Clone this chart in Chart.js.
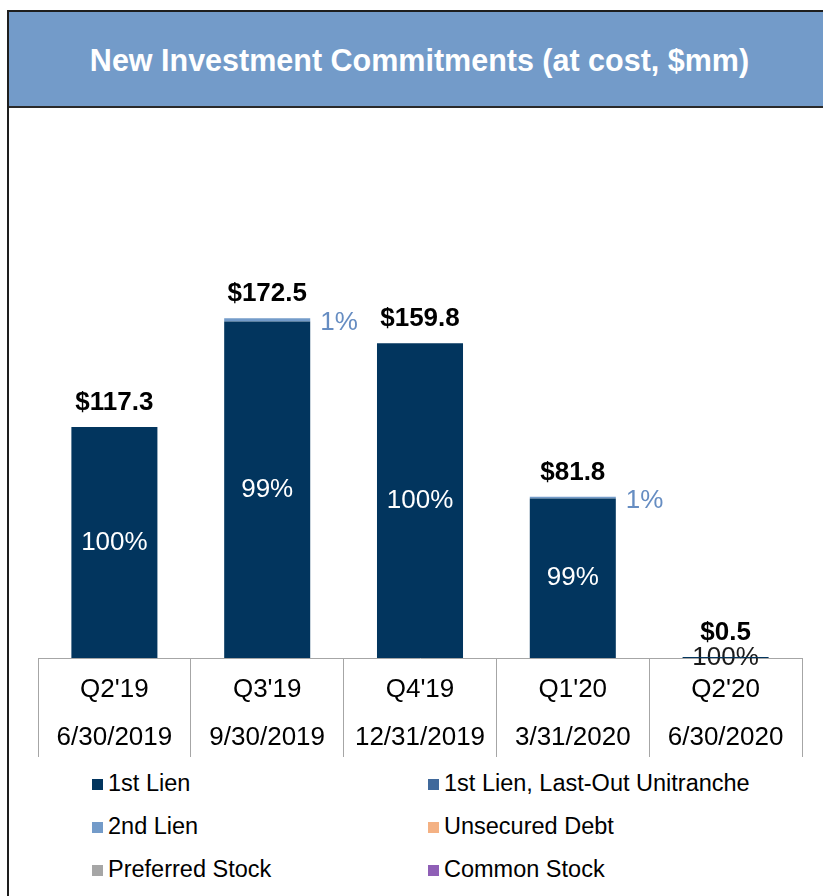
<!DOCTYPE html>
<html>
<head>
<meta charset="utf-8">
<script src="https://cdn.jsdelivr.net/npm/chart.js@4/dist/chart.umd.min.js"></script>
<style>
    body { margin: 0; background: #fff; font-family: "Liberation Sans", Arial, sans-serif; }
    #page { position: relative; width: 823px; height: 896px; overflow: hidden; }
    #frame { position: absolute; left: 7px; top: 10px; width: 840px; height: 900px; border-left: 2px solid #1e1e1e; border-top: 2px solid #1e1e1e; }
    #header { position: absolute; left: 9px; top: 12px; width: 840px; height: 94px; background: #739bc9; border-bottom: 2px solid #2a2a2a; }
    #title { position: absolute; left: 0; top: 12px; width: 823px; height: 96px; line-height: 96px; text-align: center; color: #fff; font-weight: bold; font-size: 30.5px; padding-left: 16px; box-sizing: border-box; }
    #chart { position: absolute; left: 0; top: 108px; }
    .leg { position: absolute; font-size: 23.5px; color: #000; white-space: nowrap; line-height: 28px; }
    .leg span { display: inline-block; width: 11px; height: 11px; margin-right: 5px; vertical-align: 1px; }
</style>
</head>
<body>
<div id="page">
    <div id="frame"></div>
    <div id="header"></div>
    <div id="title">New Investment Commitments (at cost, $mm)</div>
    <canvas id="chart" width="823" height="660"></canvas>
    <div id="legend"></div>
</div>
<script>
// données
const quarters = ["Q2'19", "Q3'19", "Q4'19", "Q1'20", "Q2'20"];
const dates = ['6/30/2019', '9/30/2019', '12/31/2019', '3/31/2020', '6/30/2020'];

const firstLien = [117.3, 170.8, 159.8, 81.0, 0.5];
const lastOutUnitranche = [0, 0, 0, 0, 0];
const secondLien = [0, 1.7, 0, 0.8, 0];
const unsecuredDebt = [0, 0, 0, 0, 0];
const preferredStock = [0, 0, 0, 0, 0];
const commonStock = [0, 0, 0, 0, 0];

const totals = [117.3, 172.5, 159.8, 81.8, 0.5];
const firstLienPct = ['100%', '99%', '100%', '99%', '100%'];
const secondLienPct = ['', '1%', '', '1%', ''];

const FONT = '"Liberation Sans", Arial, sans-serif';

// étiquettes des barres
const labelsPlugin = {
    id: 'barLabels',
    beforeDatasetsDraw(chart) {
        // petite barre : le texte passe sous le trait
        const ctx = chart.ctx;
        const meta = chart.getDatasetMeta(0);
        ctx.save();
        ctx.font = '26px ' + FONT;
        ctx.textAlign = 'center';
        ctx.textBaseline = 'middle';
        ctx.fillStyle = '#1a1a1a';
        meta.data.forEach((bar, i) => {
            if (bar.base - bar.y < 20) {
                ctx.fillText(firstLienPct[i], bar.x, bar.base);
            }
        });
        ctx.restore();
    },
    afterDatasetsDraw(chart) {
        const ctx = chart.ctx;
        const y = chart.scales.y;
        const meta1 = chart.getDatasetMeta(0);
        const meta2 = chart.getDatasetMeta(2);
        ctx.save();
        ctx.textBaseline = 'middle';

        ctx.font = '26px ' + FONT;
        ctx.textAlign = 'center';
        ctx.fillStyle = '#fff';
        meta1.data.forEach((bar, i) => {
            if (bar.base - bar.y >= 20) {
                ctx.fillText(firstLienPct[i], bar.x, (bar.y + bar.base) / 2);
            }
        });

        ctx.textAlign = 'left';
        ctx.fillStyle = '#668dc2';
        meta2.data.forEach((bar, i) => {
            if (secondLienPct[i]) {
                ctx.fillText(secondLienPct[i], bar.x + bar.width / 2 + 10, (bar.y + bar.base) / 2 + 3);
            }
        });

        ctx.font = 'bold 26px ' + FONT;
        ctx.textAlign = 'center';
        ctx.fillStyle = '#000';
        meta1.data.forEach((bar, i) => {
            ctx.fillText('$' + totals[i].toFixed(1), bar.x, y.getPixelForValue(totals[i]) - 24);
        });
        ctx.restore();
    }
};

const chart = new Chart(document.getElementById('chart'), {
    type: 'bar',
    data: {
        labels: quarters.map((q, i) => [q, dates[i]]),
        datasets: [
            { label: '1st Lien', data: firstLien, backgroundColor: '#02355e' },
            { label: '1st Lien, Last-Out Unitranche', data: lastOutUnitranche, backgroundColor: '#40699b' },
            { label: '2nd Lien', data: secondLien, backgroundColor: '#739bc9' },
            { label: 'Unsecured Debt', data: unsecuredDebt, backgroundColor: '#f4b183' },
            { label: 'Preferred Stock', data: preferredStock, backgroundColor: '#a6a6a6' },
            { label: 'Common Stock', data: commonStock, backgroundColor: '#8f5fb6' }
        ]
    },
    options: {
        responsive: false,
        animation: false,
        devicePixelRatio: 1,
        categoryPercentage: 1,
        barPercentage: 0.563,
        layout: { padding: { left: 38, right: 21, top: 156, bottom: 0 } },
        plugins: {
            legend: { display: false },
            tooltip: { enabled: false }
        },
        scales: {
            x: {
                stacked: true,
                afterFit(scale) { scale.height = 110; },
                grid: {
                    offset: true,
                    drawOnChartArea: false,
                    tickLength: 99,
                    color: '#a6a6a6',
                    lineWidth: 1
                },
                border: { display: true, color: '#a6a6a6', width: 1 },
                ticks: {
                    padding: -91,
                    color: '#000',
                    font: { family: FONT, size: 26, lineHeight: 1.846 }
                }
            },
            y: {
                stacked: true,
                display: false,
                min: 0,
                max: 200
            }
        }
    },
    plugins: [labelsPlugin]
});

// légende en deux colonnes
const legendPos = [[92, 769], [428, 769], [92, 812], [428, 812], [92, 855], [428, 855]];
const legend = document.getElementById('legend');
chart.data.datasets.forEach((ds, i) => {
    const el = document.createElement('div');
    el.className = 'leg';
    el.style.left = legendPos[i][0] + 'px';
    el.style.top = legendPos[i][1] + 'px';
    el.innerHTML = '<span style="background:' + ds.backgroundColor + '"></span>' + ds.label;
    legend.appendChild(el);
});
</script>
</body>
</html>
